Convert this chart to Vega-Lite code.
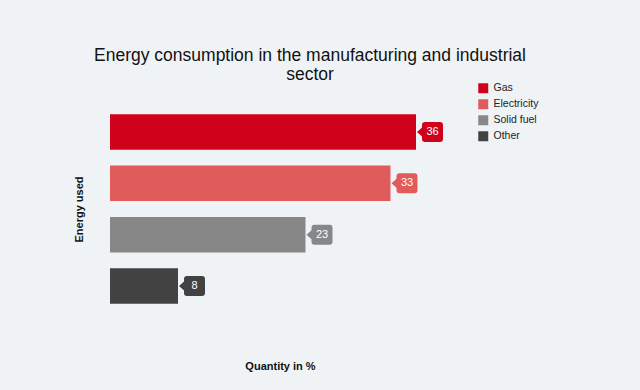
{
  "$schema": "https://vega.github.io/schema/vega-lite/v6.json",
  "width": 340,
  "height": 206,
  "autosize": {"type": "none"},
  "padding": {"left": 110, "top": 106, "right": 190, "bottom": 78},
  "background": "#f0f3f6",
  "config": {
    "view": {"stroke": null},
    "font": "Liberation Sans"
  },
  "title": {
    "text": ["Energy consumption in the manufacturing and industrial", "sector"],
    "fontSize": 17.5,
    "fontWeight": "normal",
    "color": "#111111",
    "anchor": "middle",
    "frame": "bounds",
    "lineHeight": 19,
    "offset": 0,
    "dx": 4
  },
  "data": {
    "values": [
      {"source": "Gas", "value": 36},
      {"source": "Electricity", "value": 33},
      {"source": "Solid fuel", "value": 23},
      {"source": "Other", "value": 8}
    ]
  },
  "encoding": {
    "y": {
      "field": "source",
      "type": "nominal",
      "sort": null,
      "scale": {"paddingInner": 0.31, "paddingOuter": 0.16},
      "axis": {"labels": false, "ticks": false, "domain": false, "grid": false, "title": "Energy used", "titleFontSize": 11, "titleFontWeight": "bold", "titleColor": "#111111", "titlePadding": 26}
    },
    "x": {
      "field": "value",
      "type": "quantitative",
      "scale": {"domain": [0, 40], "nice": false},
      "axis": {"labels": false, "ticks": false, "domain": false, "grid": false, "title": "Quantity in %", "titleFontSize": 11, "titleFontWeight": "bold", "titleColor": "#111111", "titlePadding": 48}
    }
  },
  "layer": [
    {
      "mark": {"type": "bar"},
      "encoding": {
        "color": {
          "field": "source",
          "type": "nominal",
          "scale": {"domain": ["Gas", "Electricity", "Solid fuel", "Other"], "range": ["#d0021b", "#e05c5c", "#878787", "#424242"]},
          "legend": {
            "title": null,
            "orient": "none",
            "legendX": 368,
            "legendY": -23,
            "symbolType": "square",
            "symbolSize": 100,
            "symbolStrokeWidth": 0,
            "labelFontSize": 10.5,
            "labelColor": "#222222",
            "rowPadding": 5,
            "labelOffset": 5
          }
        }
      }
    },
    {
      "mark": {
        "type": "point",
        "filled": true,
        "opacity": 1,
        "size": 400,
        "strokeWidth": 0,
        "shape": "M0.1,0 L0.6,-0.45 L0.6,-0.7 Q0.6,-1 0.9,-1 L2.4,-1 Q2.7,-1 2.7,-0.7 L2.7,0.7 Q2.7,1 2.4,1 L0.9,1 Q0.6,1 0.6,0.7 L0.6,0.45 Z"
      },
      "encoding": {
        "fill": {
          "field": "source",
          "type": "nominal",
          "scale": {"domain": ["Gas", "Electricity", "Solid fuel", "Other"], "range": ["#d0021b", "#e05c5c", "#878787", "#424242"]},
          "legend": null
        }
      }
    },
    {
      "mark": {"type": "text", "color": "white", "fontSize": 11, "align": "center", "baseline": "middle", "dx": 16.5},
      "encoding": {
        "text": {"field": "value", "type": "quantitative"}
      }
    }
  ]
}
